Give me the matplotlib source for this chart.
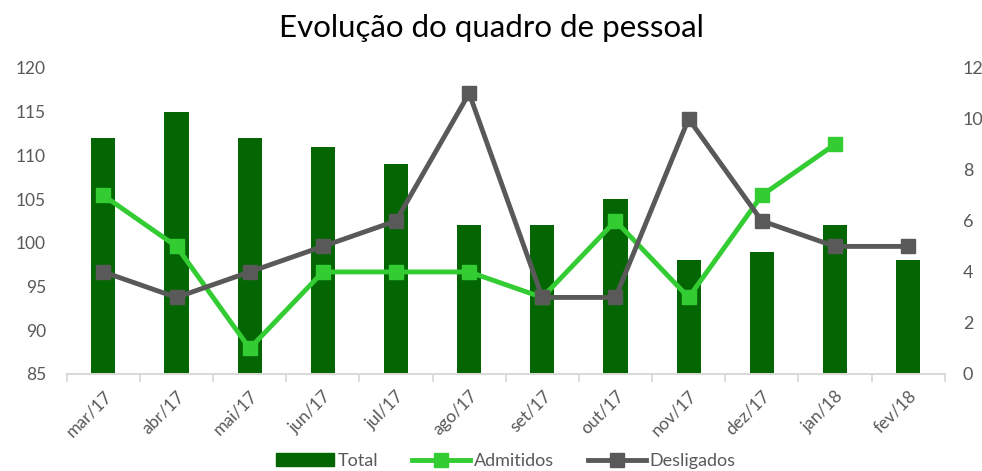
import numpy as np
import matplotlib
matplotlib.use("Agg")
import matplotlib.pyplot as plt
from matplotlib.lines import Line2D
from matplotlib.patches import Patch

plt.rcParams['font.family'] = ['Lato', 'DejaVu Sans']

months = ["mar/17", "abr/17", "mai/17", "jun/17", "jul/17", "ago/17",
          "set/17", "out/17", "nov/17", "dez/17", "jan/18", "fev/18"]
total = [112, 115, 112, 111, 109, 102, 102, 105, 98, 99, 102, 98]
admitidos = [7, 5, 1, 4, 4, 4, 3, 6, 3, 7, 9, np.nan]
desligados = [4, 3, 4, 5, 6, 11, 3, 3, 10, 6, 5, 5]

c_total = "#036603"
c_adm = "#33cc33"
c_des = "#595959"
c_txt = "#595959"

fig = plt.figure(figsize=(9.82, 4.71), dpi=100)
ax = fig.add_axes([0.068, 0.206, 0.894, 0.650])
x = np.arange(len(months))
ax.bar(x, total, width=0.33, color=c_total, zorder=1)
ax.set_ylim(85, 120)
ax.set_yticks(range(85, 121, 5))
ax.set_xlim(-0.5, len(months) - 0.5)

ax2 = ax.twinx()
ax2.plot(x, admitidos, color=c_adm, lw=3.5, marker='s', ms=10, zorder=3)
ax2.plot(x, desligados, color=c_des, lw=3.5, marker='s', ms=10, zorder=3)
ax2.set_ylim(0, 12)
ax2.set_yticks(range(0, 13, 2))

for a in (ax, ax2):
    for s in ("top", "left", "right"):
        a.spines[s].set_visible(False)
    a.spines["bottom"].set_color("#d9d9d9")
    a.spines["bottom"].set_linewidth(1.3)

ax.tick_params(axis='y', length=0, labelsize=12.5, labelcolor=c_txt, pad=15)
ax2.tick_params(axis='y', length=0, labelsize=13, labelcolor=c_txt, pad=13)

ax.set_xticks(x)
ax.set_xticklabels(months, rotation=45, ha='right', rotation_mode='anchor',
                   fontsize=12.5, color=c_txt)
ax.tick_params(axis='x', which='major', length=0, pad=10)
ax.set_xticks(np.arange(-0.5, len(months), 1), minor=True)
ax.tick_params(axis='x', which='minor', length=6, color="#d9d9d9", width=1.3)

fig.suptitle("Evolução do quadro de pessoal", y=0.97, fontsize=22.5, color="#000000")

handles = [Patch(color=c_total),
           Line2D([], [], color=c_adm, lw=3.5, marker='s', ms=10),
           Line2D([], [], color=c_des, lw=3.5, marker='s', ms=10)]
fig.legend(handles, ["Total", "Admitidos", "Desligados"], loc='lower center',
           bbox_to_anchor=(0.515, -0.03), ncol=3, frameon=False, fontsize=13,
           labelcolor=c_txt, handlelength=3.2, handletextpad=0.2, columnspacing=1.9)

fig.savefig("out.png", dpi=100)
